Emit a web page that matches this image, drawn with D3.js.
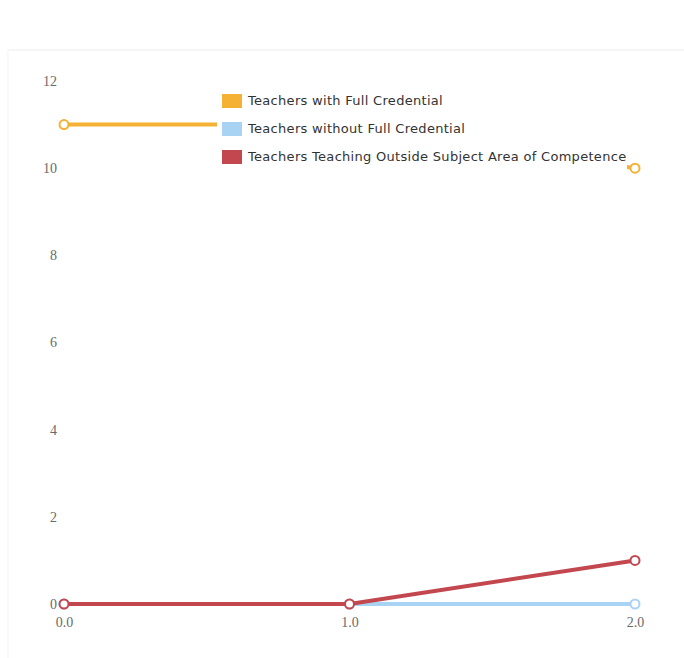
<!DOCTYPE html>
<html>
<head>
<meta charset="utf-8">
<script src="https://cdn.jsdelivr.net/npm/d3@7"></script>
<style>
  html, body { margin: 0; padding: 0; background: #fff; }
  svg { display: block; }
</style>
</head>
<body>
<svg id="chart" width="684" height="658"></svg>
<script>
// Categories along the x axis and staffing counts per series
const xValues = [0, 1, 2];
const xTickLabels = ["0.0", "1.0", "2.0"];
const yTicks = [0, 2, 4, 6, 8, 10, 12];
const seriesNames = [
  "Teachers with Full Credential",
  "Teachers without Full Credential",
  "Teachers Teaching Outside Subject Area of Competence"
];
const fullCredential = [11, 11, 10];
const withoutCredential = [0, 0, 0];
const outsideSubject = [0, 0, 1];
const seriesColors = ["#f4b133", "#a9d3f3", "#c2474f"];

const seriesValues = [fullCredential, withoutCredential, outsideSubject];
const series = seriesNames.map((name, i) => ({
  name,
  color: seriesColors[i],
  points: xValues.map((x, j) => ({ x, y: seriesValues[i][j] }))
}));

const svg = d3.select("#chart");

// faint frame lines
svg.append("line").attr("x1", 8).attr("x2", 684).attr("y1", 50).attr("y2", 50)
  .attr("stroke", "#ececec").attr("stroke-width", 1);
svg.append("line").attr("x1", 8).attr("x2", 8).attr("y1", 50).attr("y2", 658)
  .attr("stroke", "#f3f3f3").attr("stroke-width", 1);

const x = d3.scaleLinear().domain([0, 2]).range([64, 635]);
const y = d3.scaleLinear().domain([0, 12]).range([604, 81]);

// y axis labels
const yAxis = d3.axisLeft(y).tickValues(yTicks).tickFormat(d3.format("d")).tickSize(0).tickPadding(0);
const gy = svg.append("g").attr("transform", "translate(57,0)").call(yAxis);
gy.select(".domain").remove();
gy.selectAll("text")
  .attr("font-family", "Liberation Serif, serif")
  .attr("font-size", 14)
  .attr("fill", "#6a6a6a");

// x axis labels
const xAxis = d3.axisBottom(x).tickValues(xValues).tickFormat((d, i) => xTickLabels[i]).tickSize(0).tickPadding(0);
const gx = svg.append("g").attr("transform", "translate(0,617)").call(xAxis);
gx.select(".domain").remove();
gx.selectAll("text")
  .attr("font-family", "Liberation Serif, serif")
  .attr("font-size", 14)
  .attr("fill", "#6a6a6a");

const line = d3.line().x(d => x(d.x)).y(d => y(d.y));

series.forEach(s => {
  svg.append("path")
    .datum(s.points)
    .attr("d", line)
    .attr("fill", "none")
    .attr("stroke", s.color)
    .attr("stroke-width", 4)
    .attr("stroke-linejoin", "round");
  svg.append("g").selectAll("circle")
    .data(s.points)
    .join("circle")
    .attr("cx", d => x(d.x))
    .attr("cy", d => y(d.y))
    .attr("r", 4.5)
    .attr("fill", "#fff")
    .attr("stroke", s.color)
    .attr("stroke-width", 2);
});

// legend with opaque background
const legend = svg.append("g").attr("transform", "translate(217,88)");
legend.append("rect")
  .attr("x", 0).attr("y", 0).attr("width", 410).attr("height", 88)
  .attr("fill", "#fff");
series.forEach((s, i) => {
  const row = legend.append("g").attr("transform", `translate(5,${6 + i * 28})`);
  row.append("rect").attr("width", 20).attr("height", 14).attr("fill", s.color);
  row.append("text")
    .attr("x", 26).attr("y", 11)
    .attr("font-family", "DejaVu Sans, sans-serif")
    .attr("font-size", 13)
    .attr("letter-spacing", 0.3)
    .attr("fill", "#333")
    .text(s.name);
});
</script>
</body>
</html>
